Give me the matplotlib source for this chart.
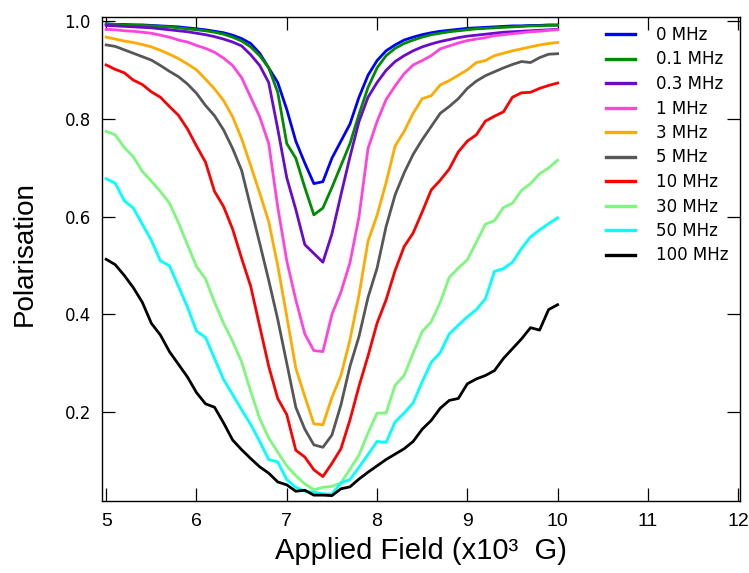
import numpy as np
import matplotlib
matplotlib.use('Agg')
import matplotlib.pyplot as plt
from matplotlib import font_manager

# field values (x10^3 G), one point every 0.1
field = np.round(np.arange(5.0, 10.01, 0.1), 1)

labels = ['0 MHz', '0.1 MHz', '0.3 MHz', '1 MHz', '3 MHz', '5 MHz',
          '10 MHz', '30 MHz', '50 MHz', '100 MHz']
colors = ['#0000ff', '#008c00', '#6a0acc', '#ff44dd', '#ffaa00', '#575757',
          '#ff0000', '#7cf87c', '#00ffff', '#000000']

p_0mhz = [0.995, 0.994, 0.994, 0.993, 0.993, 0.992, 0.991, 0.990, 0.989, 0.987,
          0.985, 0.983, 0.980, 0.977, 0.972, 0.965, 0.955, 0.935, 0.905, 0.875,
          0.820, 0.755, 0.710, 0.668, 0.672, 0.720, 0.755, 0.790, 0.845, 0.890,
          0.920, 0.940, 0.952, 0.962, 0.968, 0.973, 0.977, 0.980, 0.982, 0.984,
          0.986, 0.987, 0.988, 0.989, 0.990, 0.991, 0.991, 0.992, 0.992, 0.993,
          0.993]
p_01mhz = [0.995, 0.994, 0.993, 0.993, 0.992, 0.991, 0.990, 0.989, 0.987, 0.985,
           0.983, 0.981, 0.978, 0.974, 0.968, 0.960, 0.948, 0.930, 0.905, 0.855,
           0.750, 0.720, 0.660, 0.604, 0.618, 0.660, 0.705, 0.750, 0.810, 0.865,
           0.905, 0.930, 0.945, 0.955, 0.962, 0.968, 0.973, 0.976, 0.979, 0.981,
           0.983, 0.985, 0.986, 0.987, 0.988, 0.989, 0.990, 0.991, 0.991, 0.992,
           0.992]
p_03mhz = [0.992, 0.991, 0.990, 0.989, 0.988, 0.987, 0.985, 0.983, 0.981, 0.979,
           0.976, 0.973, 0.969, 0.964, 0.958, 0.950, 0.932, 0.910, 0.875, 0.780,
           0.680, 0.615, 0.543, 0.525, 0.507, 0.565, 0.645, 0.723, 0.795, 0.845,
           0.875, 0.900, 0.918, 0.930, 0.940, 0.948, 0.954, 0.959, 0.963, 0.967,
           0.970, 0.972, 0.974, 0.976, 0.978, 0.979, 0.980, 0.981, 0.982, 0.983,
           0.984]
p_1mhz = [0.984, 0.983, 0.981, 0.980, 0.978, 0.976, 0.972, 0.968, 0.962, 0.958,
          0.951, 0.945, 0.937, 0.925, 0.910, 0.885, 0.845, 0.805, 0.750, 0.620,
          0.510, 0.430, 0.360, 0.326, 0.324, 0.400, 0.446, 0.506, 0.600, 0.740,
          0.795, 0.840, 0.868, 0.893, 0.911, 0.920, 0.930, 0.944, 0.950, 0.956,
          0.961, 0.964, 0.967, 0.971, 0.973, 0.975, 0.977, 0.979, 0.980, 0.982,
          0.983]
p_3mhz = [0.968, 0.964, 0.960, 0.957, 0.953, 0.948, 0.941, 0.933, 0.924, 0.913,
          0.901, 0.882, 0.862, 0.838, 0.805, 0.760, 0.705, 0.649, 0.590, 0.500,
          0.396, 0.290, 0.232, 0.176, 0.174, 0.230, 0.275, 0.348, 0.440, 0.550,
          0.603, 0.670, 0.745, 0.775, 0.812, 0.842, 0.848, 0.870, 0.879, 0.890,
          0.901, 0.916, 0.920, 0.930, 0.935, 0.940, 0.944, 0.948, 0.952, 0.955,
          0.957]
p_5mhz = [0.952, 0.949, 0.942, 0.935, 0.928, 0.921, 0.910, 0.898, 0.887, 0.872,
          0.853, 0.828, 0.807, 0.778, 0.740, 0.695, 0.620, 0.546, 0.470, 0.390,
          0.300, 0.210, 0.165, 0.133, 0.128, 0.153, 0.215, 0.294, 0.355, 0.435,
          0.495, 0.580, 0.645, 0.690, 0.728, 0.758, 0.785, 0.812, 0.826, 0.842,
          0.863, 0.878, 0.889, 0.897, 0.905, 0.912, 0.918, 0.916, 0.926, 0.933,
          0.934]
p_10mhz = [0.911, 0.902, 0.895, 0.880, 0.871, 0.856, 0.845, 0.826, 0.808, 0.780,
           0.745, 0.712, 0.652, 0.621, 0.575, 0.515, 0.458, 0.376, 0.294, 0.228,
           0.195, 0.122, 0.108, 0.082, 0.068, 0.095, 0.125, 0.184, 0.253, 0.315,
           0.382, 0.430, 0.490, 0.539, 0.567, 0.610, 0.655, 0.675, 0.698, 0.733,
           0.755, 0.768, 0.796, 0.806, 0.815, 0.845, 0.854, 0.855, 0.863, 0.869,
           0.874]
p_30mhz = [0.775, 0.768, 0.742, 0.723, 0.693, 0.673, 0.652, 0.628, 0.588, 0.543,
           0.498, 0.473, 0.425, 0.382, 0.345, 0.303, 0.243, 0.187, 0.147, 0.118,
           0.090, 0.070, 0.053, 0.041, 0.046, 0.048, 0.055, 0.083, 0.112, 0.157,
           0.198, 0.198, 0.255, 0.275, 0.321, 0.365, 0.385, 0.425, 0.476, 0.495,
           0.512, 0.548, 0.585, 0.592, 0.619, 0.628, 0.654, 0.668, 0.688, 0.700,
           0.716]
p_50mhz = [0.678, 0.669, 0.633, 0.618, 0.585, 0.552, 0.510, 0.500, 0.458, 0.415,
           0.366, 0.353, 0.310, 0.267, 0.236, 0.205, 0.175, 0.140, 0.103, 0.098,
           0.062, 0.046, 0.038, 0.036, 0.033, 0.032, 0.055, 0.062, 0.087, 0.113,
           0.140, 0.138, 0.180, 0.198, 0.219, 0.262, 0.302, 0.322, 0.360, 0.378,
           0.395, 0.410, 0.432, 0.488, 0.494, 0.507, 0.535, 0.559, 0.573, 0.586,
           0.598]
p_100mhz = [0.513, 0.502, 0.480, 0.455, 0.425, 0.382, 0.358, 0.324, 0.298, 0.272,
            0.240, 0.217, 0.210, 0.178, 0.143, 0.123, 0.105, 0.088, 0.075, 0.057,
            0.051, 0.038, 0.040, 0.030, 0.030, 0.029, 0.043, 0.047, 0.063, 0.077,
            0.090, 0.103, 0.114, 0.125, 0.140, 0.165, 0.183, 0.208, 0.224, 0.228,
            0.258, 0.268, 0.275, 0.285, 0.310, 0.330, 0.350, 0.373, 0.368, 0.410,
            0.420]

series = [p_0mhz, p_01mhz, p_03mhz, p_1mhz, p_3mhz, p_5mhz,
          p_10mhz, p_30mhz, p_50mhz, p_100mhz]

xticks = [5, 6, 7, 8, 9, 10, 11, 12]
yticks = [0.2, 0.4, 0.6, 0.8, 1.0]

names = {f.name for f in font_manager.fontManager.ttflist}
narrow = 'Liberation Sans Narrow' if 'Liberation Sans Narrow' in names else 'Liberation Sans'

fig = plt.figure(figsize=(7.49, 5.73), dpi=100)
ax = fig.add_axes([0.136, 0.126, 0.852, 0.845])

for vals, lab, col in zip(series, labels, colors):
    ax.plot(field, vals, color=col, lw=2.0, label=lab)

ax.set_xlim(4.952, 12.02)
ax.set_ylim(0.0184, 1.010)
ax.set_xticks(xticks)
ax.set_xticklabels([str(t) for t in xticks], family=narrow, fontsize=14)
ax.set_yticks(yticks)
ax.set_yticklabels([f'{t:.1f}' for t in yticks], family='DejaVu Sans', fontsize=12)
ax.tick_params(direction='in', length=9.5, width=0.9, top=True, right=True,
               color='black')
ax.tick_params(axis='x', pad=9)
ax.tick_params(axis='y', pad=8)
for sp in ax.spines.values():
    sp.set_linewidth(1.0)

ax.set_xlabel('Applied Field (x10\u00b3  G)', family=narrow, fontsize=21, labelpad=5)
ax.set_ylabel('Polarisation', family='Liberation Sans', fontsize=20)
ax.yaxis.set_label_coords(-0.100, 0.51)

leg = ax.legend(loc='upper left', bbox_to_anchor=(606 / 749, 1 - 26 / 573),
                bbox_transform=fig.transFigure, frameon=False, borderaxespad=0,
                borderpad=0, handlelength=1.75, handletextpad=1.25,
                labelspacing=0.39, prop={'family': 'DejaVu Sans', 'size': 12})
for line in leg.get_lines():
    line.set_linewidth(2.4)

fig.savefig('out.png', dpi=100)
